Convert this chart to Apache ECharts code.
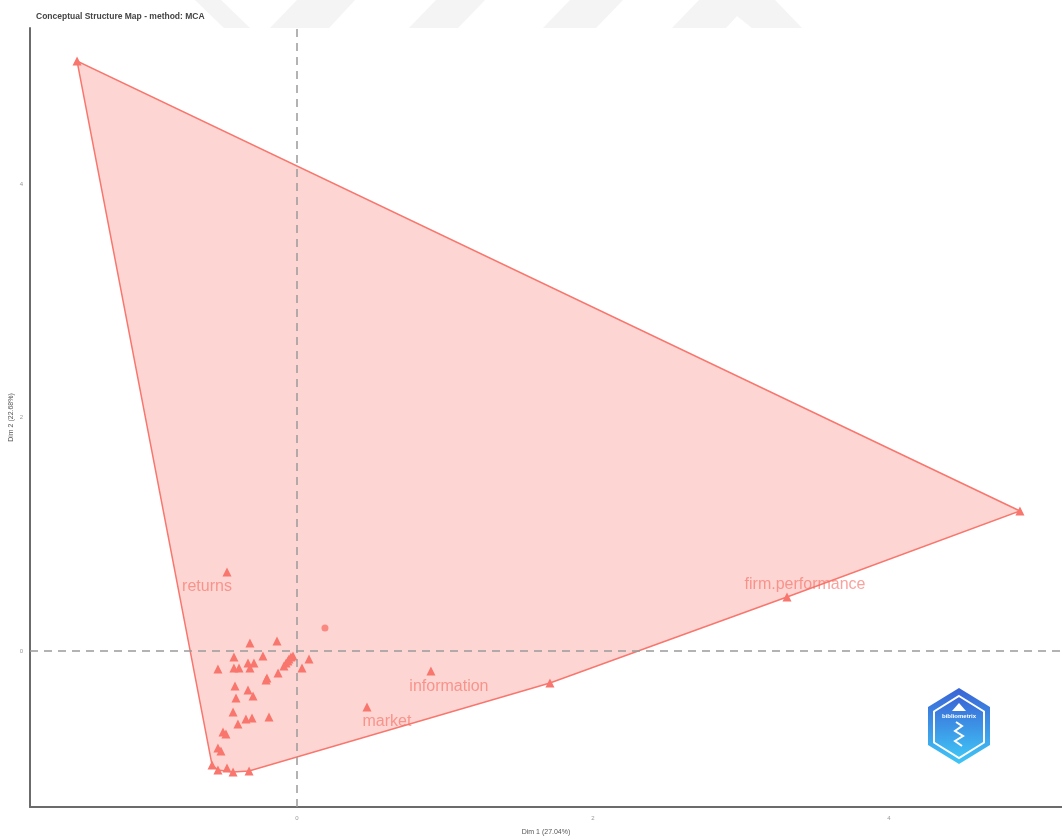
<!DOCTYPE html>
<html>
<head>
<meta charset="utf-8">
<title>Conceptual Structure Map - method: MCA</title>
<script src="https://cdn.jsdelivr.net/npm/echarts@6/dist/echarts.min.js"></script>
<style>
  html, body { margin: 0; padding: 0; background: #ffffff; }
  #chart { width: 1062px; height: 839px; }
</style>
</head>
<body>
<div id="chart"></div>
<script>
// MCA coordinates of the terms (Dim 1, Dim 2)
const termDim1 = [
  -1.486, 4.885, 3.311, 1.709, 0.905, 0.473, -0.473,
  -0.318, -0.135, -0.426, -0.230, -0.331, -0.291, -0.534, -0.426, -0.392, -0.318,
  -0.088, -0.074, -0.061, -0.054, -0.041, -0.027, 0.081, 0.034,
  -0.128, -0.203, -0.209, -0.419, -0.331, -0.297, -0.412, -0.432,
  -0.189, -0.304, -0.345, -0.399, -0.500, -0.480, -0.534, -0.514,
  -0.574, -0.534, -0.473, -0.432, -0.324
];
const termDim2 = [
  5.053, 1.199, 0.463, -0.274, -0.171, -0.480, 0.677,
  0.069, 0.086, -0.051, -0.043, -0.103, -0.103, -0.154, -0.146, -0.146, -0.146,
  -0.128, -0.103, -0.086, -0.069, -0.051, -0.043, -0.069, -0.146,
  -0.188, -0.231, -0.248, -0.300, -0.334, -0.385, -0.403, -0.522,
  -0.565, -0.574, -0.582, -0.625, -0.694, -0.711, -0.831, -0.857,
  -0.976, -1.019, -1.002, -1.036, -1.028
];
// Terms shown with a text label
const labelNames = ["firm.performance", "information", "market", "returns"];
const labelDim1 = [3.311, 0.905, 0.473, -0.473];
const labelDim2 = [0.463, -0.171, -0.480, 0.677];
// Document point drawn as a dot
const dotDim1 = [0.189];
const dotDim2 = [0.197];
// Axis tick labels
const tickValues = [0, 2, 4];

const RED = '#F8766D';

// Convex hull (monotone chain) around the cluster's terms
function convexHull(pts) {
  const p = pts.slice().sort((a, b) => a[0] - b[0] || a[1] - b[1]);
  const cross = (o, a, b) => (a[0] - o[0]) * (b[1] - o[1]) - (a[1] - o[1]) * (b[0] - o[0]);
  const lower = [], upper = [];
  for (const q of p) {
    while (lower.length >= 2 && cross(lower[lower.length - 2], lower[lower.length - 1], q) <= 0) lower.pop();
    lower.push(q);
  }
  for (let i = p.length - 1; i >= 0; i--) {
    const q = p[i];
    while (upper.length >= 2 && cross(upper[upper.length - 2], upper[upper.length - 1], q) <= 0) upper.pop();
    upper.push(q);
  }
  upper.pop(); lower.pop();
  return lower.concat(upper);
}

const termPoints = termDim1.map((x, i) => [x, termDim2[i]]);
const hull = convexHull(termPoints);
const labelPoints = labelNames.map((n, i) => ({ name: n, value: [labelDim1[i], labelDim2[i]] }));
const dotPoints = dotDim1.map((x, i) => [x, dotDim2[i]]);

// label centre placement relative to each labelled term, in pixels
const labelOffsets = {
  'firm.performance': [18, -12],
  'information': [18, 16],
  'market': [20, 15],
  'returns': [-20, 15]
};

const chart = echarts.init(document.getElementById('chart'), null, { renderer: 'canvas' });

const axisCommon = {
  type: 'value',
  splitLine: { show: false },
  axisTick: { show: false },
  axisLine: { show: true, onZero: false, lineStyle: { color: '#6b6b6b', width: 2 } },
  axisLabel: { customValues: tickValues, color: '#999', fontSize: 6, fontFamily: 'Liberation Sans' },
  nameLocation: 'middle',
  nameMoveOverlap: false,
  nameTextStyle: { color: '#555', fontSize: 7, fontFamily: 'Liberation Sans' }
};

// Faint chevron band along the top edge
const chevrons = [
  [[195, 0], [221, 0], [250, 28], [224, 28]],
  [[297, 0], [355, 0], [329, 28], [270, 28]],
  [[436, 0], [485, 0], [458, 28], [409, 28]],
  [[570, 0], [623, 0], [596, 28], [543, 28]],
  [[699, 0], [775, 0], [802, 28], [752, 28], [737, 16], [726, 28], [672, 28]]
];

// Hexagonal badge in the lower right corner
function hexagon(cx, cy, rx, ry) {
  return [[cx, cy - ry], [cx + rx, cy - ry / 2], [cx + rx, cy + ry / 2],
          [cx, cy + ry], [cx - rx, cy + ry / 2], [cx - rx, cy - ry / 2]];
}
const badgeFill = new echarts.graphic.LinearGradient(0, 0, 0, 1, [
  { offset: 0, color: '#3a63d6' },
  { offset: 1, color: '#3fc6f6' }
]);

const graphics = chevrons.map(pts => ({
  type: 'polygon', z: -10, silent: true,
  shape: { points: pts },
  style: { fill: '#f4f4f4' }
})).concat([
  { type: 'polygon', z: 100, silent: true, shape: { points: hexagon(959, 726, 31, 38) },
    style: { fill: badgeFill } },
  { type: 'polygon', z: 101, silent: true, shape: { points: hexagon(959, 727, 25, 31) },
    style: { fill: badgeFill, stroke: '#ffffff', lineWidth: 2 } },
  { type: 'polygon', z: 102, silent: true,
    shape: { points: [[959, 703], [966, 711], [952, 711]] },
    style: { fill: '#ffffff' } },
  { type: 'text', z: 102, silent: true, x: 959, y: 716,
    style: { text: 'bibliometrix', fill: '#ffffff', fontSize: 6, fontWeight: 'bold',
             fontFamily: 'Liberation Sans', align: 'center', verticalAlign: 'middle' } },
  { type: 'polyline', z: 102, silent: true,
    shape: { points: [[956, 722], [962, 726], [955, 731], [963, 736], [955, 741], [962, 746]] },
    style: { stroke: '#ffffff', lineWidth: 2, fill: null } }
]);

const option = {
  animation: false,
  backgroundColor: '#ffffff',
  title: {
    text: 'Conceptual Structure Map - method: MCA',
    left: 31, top: 7,
    textStyle: { fontSize: 8.5, fontWeight: 'bold', color: '#444', fontFamily: 'Liberation Sans' }
  },
  grid: { left: 30, right: 0, top: 28, bottom: 32, containLabel: false, outerBoundsMode: 'none' },
  xAxis: Object.assign({}, axisCommon, {
    min: -1.804, max: 5.169,
    name: 'Dim 1 (27.04%)', nameGap: 22,
    axisLabel: Object.assign({}, axisCommon.axisLabel, { margin: 8 })
  }),
  yAxis: Object.assign({}, axisCommon, {
    min: -1.336, max: 5.336,
    name: 'Dim 2 (22.68%)', nameGap: 15,
    axisLabel: Object.assign({}, axisCommon.axisLabel, { margin: 7 })
  }),
  graphic: graphics,
  series: [
    {
      // filled hull of the cluster
      type: 'custom',
      silent: true,
      z: 1,
      data: [0],
      renderItem: function (params, api) {
        const pts = hull.map(p => api.coord(p));
        return {
          type: 'polygon',
          shape: { points: pts },
          style: { fill: 'rgba(248,118,109,0.3)', stroke: RED, lineWidth: 1.5 }
        };
      }
    },
    {
      // reference lines through the origin
      type: 'line',
      data: [],
      silent: true,
      z: 2,
      markLine: {
        silent: true,
        symbol: 'none',
        label: { show: false },
        lineStyle: { color: '#9a9a9a', width: 1.5, type: [8, 6] },
        data: [{ xAxis: 0 }, { yAxis: 0 }]
      }
    },
    {
      type: 'scatter',
      z: 3,
      symbol: 'triangle',
      symbolSize: 9,
      itemStyle: { color: RED, opacity: 1 },
      data: termPoints
    },
    {
      type: 'scatter',
      z: 3,
      symbol: 'circle',
      symbolSize: 7,
      itemStyle: { color: RED },
      data: dotPoints
    },
    {
      // term labels
      type: 'scatter',
      z: 4,
      symbolSize: 0,
      data: labelPoints,
      label: {
        show: true,
        formatter: p => p.name,
        position: 'inside',
        color: 'rgba(245,110,100,0.8)',
        fontSize: 16,
        fontFamily: 'Liberation Sans'
      },
      labelLayout: function (params) {
        const off = labelOffsets[labelNames[params.dataIndex]];
        const r = params.labelRect;
        return {
          x: params.rect.x + off[0] - r.width / 2,
          y: params.rect.y + off[1] - r.height / 2
        };
      }
    }
  ]
};

chart.setOption(option);
</script>
</body>
</html>
